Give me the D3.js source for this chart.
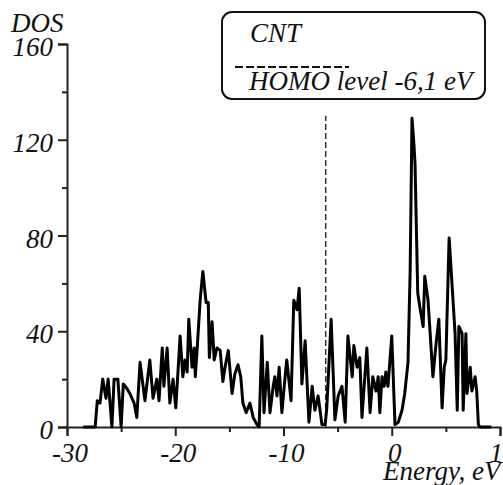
<!DOCTYPE html>
<html>
<head>
<meta charset="utf-8">
<script src="https://cdn.jsdelivr.net/npm/d3@7"></script>
<style>
  body { margin: 0; background: #fff; }
  svg text { font-family: "Liberation Serif", "Times New Roman", serif; font-style: italic; fill: #111; }
</style>
</head>
<body>
<div id="chart"></div>
<script>
// DOS of the CNT
const energy = [-28.5, -27.4, -27.2, -26.95, -26.7, -26.4, -26.2, -25.85, -25.65, -25.3, -25.0, -24.8, -24.45, -24.2, -23.8, -23.55, -23.25, -22.8, -22.35, -22.05, -21.7, -21.5, -21.2, -21.05, -20.75, -20.5, -20.2, -19.95, -19.55, -19.3, -19.1, -18.9, -18.75, -18.45, -18.25, -18.15, -18.0, -17.7, -17.45, -17.15, -16.95, -16.85, -16.6, -16.4, -16.15, -15.85, -15.6, -15.4, -15.1, -14.75, -14.5, -14.2, -13.95, -13.75, -13.45, -13.1, -12.8, -12.45, -12.25, -12.0, -11.8, -11.5, -11.25, -10.95, -10.8, -10.6, -10.4, -10.15, -9.85, -9.7, -9.3, -9.05, -8.75, -8.55, -8.3, -8.0, -7.65, -7.35, -7.1, -6.8, -6.45, -6.15, -6.0, -5.6, -5.25, -4.95, -4.6, -4.3, -4.05, -3.65, -3.5, -3.2, -2.95, -2.75, -2.3, -2.0, -1.75, -1.45, -1.25, -1.1, -0.9, -0.7, -0.55, -0.35, 0.0, 0.3, 0.6, 0.95, 1.2, 1.5, 1.7, 1.87, 2.05, 2.15, 2.4, 2.6, 2.9, 3.05, 3.35, 3.55, 3.8, 4.1, 4.35, 4.65, 4.85, 5.0, 5.3, 5.4, 5.55, 5.85, 6.05, 6.2, 6.5, 6.6, 6.85, 6.95, 7.25, 7.4, 7.7, 7.85, 8.0, 8.15, 9.2];
const dos = [0, 0, 11, 10, 20, 12, 20, 0, 20, 20, 0, 18, 16, 14, 10, 4, 27, 11, 28, 12, 20, 11, 33, 17, 33, 10, 20, 8, 38, 21, 28, 23, 45, 25, 33, 21, 31, 53, 65, 52, 52, 29, 44, 28, 33, 32, 19, 25, 32, 14, 22, 26, 21, 10, 6, 10, 4, 1, 0, 38, 6, 27, 6, 17, 21, 13, 25, 6, 21, 28, 11, 53, 49, 58, 18, 36, 2, 17, 7, 13, 1, 1, 8, 45, 3, 13, 17, 2, 38, 21, 34, 25, 29, 4, 33, 6, 21, 15, 21, 6, 21, 17, 23, 17, 38, 1, 2, 7, 14, 27, 65, 129, 118, 110, 56, 50, 42, 63, 53, 39, 21, 35, 45, 8, 25, 28, 79, 72, 61, 39, 7, 42, 39, 7, 39, 14, 25, 15, 21, 15, 1, 0, 0];

const homoLevel = -6.1;
const homoTop = 130;

const xMajor = [-30, -20, -10, 0, 10];
const xMinor = [-25, -15, -5, 5];
const yMajor = [0, 40, 80, 120, 160];
const yMinor = [20, 60, 100, 140];

const legendLabels = ['CNT', 'HOMO level -6,1 eV'];

const W = 503, H = 485;
const fontSize = 27;

const svg = d3.select('#chart')
  .append('svg')
  .attr('width', W)
  .attr('height', H);

const x = d3.scaleLinear().domain([-30, 10]).range([67, 500]);
const y = d3.scaleLinear().domain([0, 160]).range([427, 44]);

// axes
const xAxis = svg.append('g').attr('transform', `translate(0,${y(0)})`);
xAxis.call(d3.axisBottom(x).tickValues(xMajor).tickSize(9).tickFormat(''));
xAxis.append('g').call(d3.axisBottom(x).tickValues(xMinor).tickSize(5).tickFormat(''));

const yAxis = svg.append('g').attr('transform', `translate(${x(-30)},0)`);
yAxis.call(d3.axisLeft(y).tickValues(yMajor).tickSize(9).tickFormat(''));
yAxis.append('g').call(d3.axisLeft(y).tickValues(yMinor).tickSize(5).tickFormat(''));

svg.selectAll('.domain').attr('stroke', '#222').attr('stroke-width', 2);
svg.selectAll('.tick line').attr('stroke', '#222').attr('stroke-width', 2);
svg.selectAll('.domain').filter(function () { return this.parentNode.parentNode !== svg.node(); })
  .remove();

// tick labels
svg.append('g').selectAll('text')
  .data(xMajor)
  .join('text')
  .attr('x', d => x(d) + 3)
  .attr('y', 462)
  .attr('text-anchor', 'middle')
  .attr('font-size', fontSize)
  .text(d => d);

svg.append('g').selectAll('text')
  .data(yMajor)
  .join('text')
  .attr('x', 53)
  .attr('y', d => y(d) + 12)
  .attr('text-anchor', 'end')
  .attr('font-size', fontSize)
  .text(d => d);

svg.append('text')
  .attr('x', 11)
  .attr('y', 32)
  .attr('font-size', fontSize)
  .text('DOS');

svg.append('text')
  .attr('x', 383)
  .attr('y', 480)
  .attr('font-size', fontSize)
  .text('Energy, eV');

// HOMO level
svg.append('line')
  .attr('x1', x(homoLevel)).attr('x2', x(homoLevel))
  .attr('y1', y(0)).attr('y2', y(homoTop))
  .attr('stroke', '#333')
  .attr('stroke-width', 1.5)
  .attr('stroke-dasharray', '6,3');

// DOS curve
const pts = energy.map((e, i) => [e, dos[i]]);
const line = d3.line().x(d => x(d[0])).y(d => y(d[1]));

svg.append('path')
  .datum(pts)
  .attr('d', line)
  .attr('fill', 'none')
  .attr('stroke', '#000')
  .attr('stroke-width', 3)
  .attr('stroke-linejoin', 'round');

// legend
const lg = svg.append('g');
lg.append('rect')
  .attr('x', 222).attr('y', 12)
  .attr('width', 263).attr('height', 87)
  .attr('rx', 10)
  .attr('fill', '#fff')
  .attr('stroke', '#111')
  .attr('stroke-width', 2);
lg.append('text')
  .attr('x', 250).attr('y', 42)
  .attr('font-size', fontSize)
  .text(legendLabels[0]);
lg.append('line')
  .attr('x1', 235).attr('x2', 349)
  .attr('y1', 67).attr('y2', 67)
  .attr('stroke', '#111')
  .attr('stroke-width', 2)
  .attr('stroke-dasharray', '8,3');
lg.append('text')
  .attr('x', 249).attr('y', 90)
  .attr('font-size', fontSize)
  .text(legendLabels[1]);
</script>
</body>
</html>
